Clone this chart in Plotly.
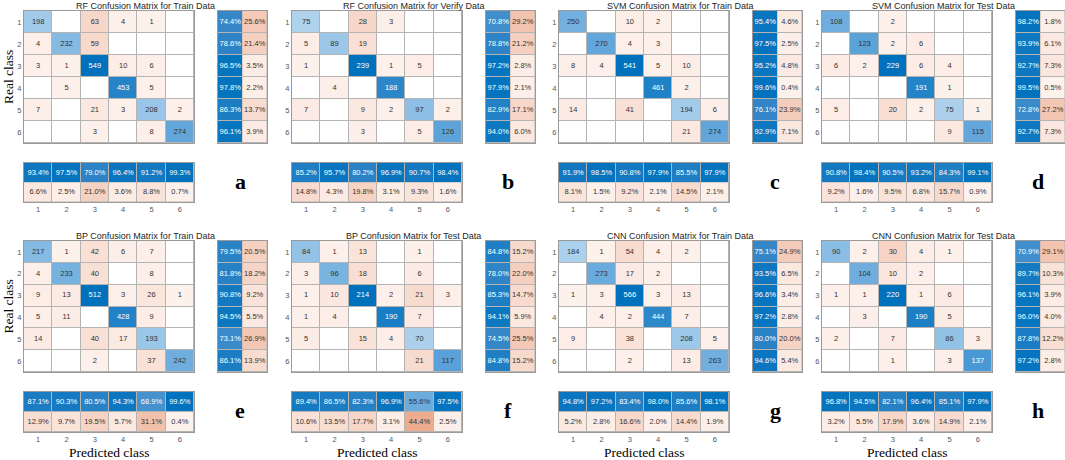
import plotly.graph_objects as go

classes = [1, 2, 3, 4, 5, 6]

titles = [
    "RF Confusion Matrix for Train Data",
    "RF Confusion Matrix for Verify Data",
    "SVM Confusion Matrix for Train Data",
    "SVM Confusion Matrix for Test Data",
    "BP Confusion Matrix for Train Data",
    "BP Confusion Matrix for Test Data",
    "CNN Confusion Matrix for Train Data",
    "CNN Confusion Matrix for Test Data",
]
letters = ["a", "b", "c", "d", "e", "f", "g", "h"]

# rows = real class, columns = predicted class (0 = empty cell)
rf_train = [[198, 0, 63, 4, 1, 0],
            [4, 232, 59, 0, 0, 0],
            [3, 1, 549, 10, 6, 0],
            [0, 5, 0, 453, 5, 0],
            [7, 0, 21, 3, 208, 2],
            [0, 0, 3, 0, 8, 274]]
rf_verify = [[75, 0, 28, 3, 0, 0],
             [5, 89, 19, 0, 0, 0],
             [1, 0, 239, 1, 5, 0],
             [0, 4, 0, 188, 0, 0],
             [7, 0, 9, 2, 97, 2],
             [0, 0, 3, 0, 5, 126]]
svm_train = [[250, 0, 10, 2, 0, 0],
             [0, 270, 4, 3, 0, 0],
             [8, 4, 541, 5, 10, 0],
             [0, 0, 0, 461, 2, 0],
             [14, 0, 41, 0, 194, 6],
             [0, 0, 0, 0, 21, 274]]
svm_test = [[108, 0, 2, 0, 0, 0],
            [0, 123, 2, 6, 0, 0],
            [6, 2, 229, 6, 4, 0],
            [0, 0, 0, 191, 1, 0],
            [5, 0, 20, 2, 75, 1],
            [0, 0, 0, 0, 9, 115]]
bp_train = [[217, 1, 42, 6, 7, 0],
            [4, 233, 40, 0, 8, 0],
            [9, 13, 512, 3, 26, 1],
            [5, 11, 0, 428, 9, 0],
            [14, 0, 40, 17, 193, 0],
            [0, 0, 2, 0, 37, 242]]
bp_test = [[84, 1, 13, 0, 1, 0],
           [3, 96, 18, 0, 6, 0],
           [1, 10, 214, 2, 21, 3],
           [1, 4, 0, 190, 7, 0],
           [5, 0, 15, 4, 70, 0],
           [0, 0, 0, 0, 21, 117]]
cnn_train = [[184, 1, 54, 4, 2, 0],
             [0, 273, 17, 2, 0, 0],
             [1, 3, 566, 3, 13, 0],
             [0, 4, 2, 444, 7, 0],
             [9, 0, 38, 0, 208, 5],
             [0, 0, 2, 0, 13, 263]]
cnn_test = [[90, 2, 30, 4, 1, 0],
            [0, 104, 10, 2, 0, 0],
            [1, 1, 220, 1, 6, 0],
            [0, 3, 0, 190, 5, 0],
            [2, 0, 7, 0, 86, 3],
            [0, 0, 1, 0, 3, 137]]

# row summary (% correct per real class)
row_rf_train = [74.4, 78.6, 96.5, 97.8, 86.3, 96.1]
row_rf_verify = [70.8, 78.8, 97.2, 97.9, 82.9, 94.0]
row_svm_train = [95.4, 97.5, 95.2, 99.6, 76.1, 92.9]
row_svm_test = [98.2, 93.9, 92.7, 99.5, 72.8, 92.7]
row_bp_train = [79.5, 81.8, 90.8, 94.5, 73.1, 86.1]
row_bp_test = [84.8, 78.0, 85.3, 94.1, 74.5, 84.8]
row_cnn_train = [75.1, 93.5, 96.6, 97.2, 80.0, 94.6]
row_cnn_test = [70.9, 89.7, 96.1, 96.0, 87.8, 97.2]

# column summary (% correct per predicted class)
col_rf_train = [93.4, 97.5, 79.0, 96.4, 91.2, 99.3]
col_rf_verify = [85.2, 95.7, 80.2, 96.9, 90.7, 98.4]
col_svm_train = [91.9, 98.5, 90.8, 97.9, 85.5, 97.9]
col_svm_test = [90.8, 98.4, 90.5, 93.2, 84.3, 99.1]
col_bp_train = [87.1, 90.3, 80.5, 94.3, 68.9, 99.6]
col_bp_test = [89.4, 86.5, 82.3, 96.9, 55.6, 97.5]
col_cnn_train = [94.8, 97.2, 83.4, 98.0, 85.6, 98.1]
col_cnn_test = [96.8, 94.5, 82.1, 96.4, 85.1, 97.9]

matrices = [rf_train, rf_verify, svm_train, svm_test, bp_train, bp_test, cnn_train, cnn_test]
row_sums = [row_rf_train, row_rf_verify, row_svm_train, row_svm_test,
            row_bp_train, row_bp_test, row_cnn_train, row_cnn_test]
col_sums = [col_rf_train, col_rf_verify, col_svm_train, col_svm_test,
            col_bp_train, col_bp_test, col_cnn_train, col_cnn_test]

BLUE = "#0072bd"
ORANGE = "#d9531a"
DARK = "#333333"
GRID = "#b4b4b4"
FONT = "Liberation Sans"
SERIF = "Liberation Serif"

blue_main = [[0, "#ffffff"], [0.35, "#a6cdeb"], [0.5, "#62a6db"], [0.8, "#2a86c9"], [1, BLUE]]
blue_pct = [[0, "#ffffff"], [0.55, "#6eaddd"], [0.75, "#3586c7"], [1, BLUE]]
orange_pct = [[0, "#fdf2ed"], [1, ORANGE]]

# pixel layout
W, H = 1065, 460
lefts = [24, 292, 559, 822]
mat_w, rs_off, rs_w = 170, 194, 49
rows_y = [dict(mat=(11, 143), cs=(163, 202)),
          dict(mat=(241, 372), cs=(392, 432))]


def px(x):
    return min(max(x / W, 0), 1)


def py(y):
    return min(max(1 - y / H, 0), 1)


fig = go.Figure()
layout = {}
annotations = []


def add_axes(n, x0, x1, y0, y1, xr, yr, xticks=False, yticks=False):
    common = dict(showgrid=False, zeroline=False, showline=True, mirror=True,
                  linecolor="#9a9a9a", linewidth=1, ticks="", tickvals=classes, ticklen=0,
                  tickfont=dict(size=7.5, color="#555", family=FONT), fixedrange=True)
    layout[f"xaxis{n}"] = dict(domain=[px(x0), px(x1)], anchor=f"y{n}", range=xr,
                               showticklabels=xticks, **common)
    layout[f"yaxis{n}"] = dict(domain=[py(y1), py(y0)], anchor=f"x{n}", range=yr,
                               showticklabels=yticks, **common)


def text_trace(n, xs, ys, texts, colors):
    fig.add_trace(go.Scatter(x=xs, y=ys, text=texts, mode="text", xaxis=f"x{n}", yaxis=f"y{n}",
                             textfont=dict(size=7.5, color=colors, family=FONT),
                             hoverinfo="skip", showlegend=False))


def note(text, x, y, size, family, color="black", angle=0):
    annotations.append(dict(text=text, x=px(x), y=py(y), xref="paper", yref="paper",
                            xanchor="center", yanchor="middle", showarrow=False,
                            textangle=angle, font=dict(size=size, color=color, family=family)))


for k in range(8):
    m = matrices[k]
    rs = row_sums[k]
    cs = col_sums[k]
    col = k % 4
    ry = rows_y[k // 4]
    left = lefts[col]
    mx = max(max(r) for r in m)
    na, nb, nc = 3 * k + 1, 3 * k + 2, 3 * k + 3

    # main matrix
    add_axes(na, left, left + mat_w, ry["mat"][0], ry["mat"][1],
             [0.5, 6.5], [6.5, 0.5], yticks=True)
    diag = [[m[i][j] if i == j else None for j in range(6)] for i in range(6)]
    off = [[m[i][j] if i != j else None for j in range(6)] for i in range(6)]
    zoff = mx * 0.7
    eps = 0.5 / zoff
    fig.add_trace(go.Heatmap(z=diag, x=classes, y=classes, colorscale=blue_main, zmin=0, zmax=mx,
                             xgap=1, ygap=1, showscale=False, hoverinfo="skip",
                             xaxis=f"x{na}", yaxis=f"y{na}"))
    fig.add_trace(go.Heatmap(z=off, x=classes, y=classes,
                             colorscale=[[0, "#ffffff"], [eps, "#fdf1ec"], [1, ORANGE]],
                             zmin=0, zmax=zoff, xgap=1, ygap=1, showscale=False, hoverinfo="skip",
                             xaxis=f"x{na}", yaxis=f"y{na}"))
    xs, ys, ts, cl = [], [], [], []
    for i in range(6):
        for j in range(6):
            if m[i][j]:
                xs.append(classes[j])
                ys.append(classes[i])
                ts.append(str(m[i][j]))
                cl.append("white" if i == j and m[i][j] / mx > 0.6 else DARK)
    text_trace(na, xs, ys, ts, cl)

    # row summary
    add_axes(nb, left + rs_off, left + rs_off + rs_w, ry["mat"][0], ry["mat"][1],
             [0.5, 2.5], [6.5, 0.5])
    fig.add_trace(go.Heatmap(z=[[v] for v in rs], x=[1], y=classes, colorscale=blue_pct,
                             zmin=0, zmax=100, xgap=1, ygap=1, showscale=False, hoverinfo="skip",
                             xaxis=f"x{nb}", yaxis=f"y{nb}"))
    fig.add_trace(go.Heatmap(z=[[100 - v] for v in rs], x=[2], y=classes, colorscale=orange_pct,
                             zmin=0, zmax=100, xgap=1, ygap=1, showscale=False, hoverinfo="skip",
                             xaxis=f"x{nb}", yaxis=f"y{nb}"))
    text_trace(nb, [1] * 6 + [2] * 6, classes + classes,
               [f"{v:.1f}%" for v in rs] + [f"{100 - v:.1f}%" for v in rs],
               ["white" if v > 60 else DARK for v in rs] + [DARK] * 6)

    # column summary
    add_axes(nc, left, left + mat_w, ry["cs"][0], ry["cs"][1],
             [0.5, 6.5], [2.5, 0.5], xticks=True)
    fig.add_trace(go.Heatmap(z=[cs], x=classes, y=[1], colorscale=blue_pct,
                             zmin=0, zmax=100, xgap=1, ygap=1, showscale=False, hoverinfo="skip",
                             xaxis=f"x{nc}", yaxis=f"y{nc}"))
    fig.add_trace(go.Heatmap(z=[[100 - v for v in cs]], x=classes, y=[2], colorscale=orange_pct,
                             zmin=0, zmax=100, xgap=1, ygap=1, showscale=False, hoverinfo="skip",
                             xaxis=f"x{nc}", yaxis=f"y{nc}"))
    text_trace(nc, classes + classes, [1] * 6 + [2] * 6,
               [f"{v:.1f}%" for v in cs] + [f"{100 - v:.1f}%" for v in cs],
               ["white" if v > 60 else DARK for v in cs] + [DARK] * 6)

    note(titles[k], left + (rs_off + rs_w) / 2, ry["mat"][0] - 5, 9, FONT, "#262626")
    note(f"<b>{letters[k]}</b>", left + 216, ry["cs"][0] + 18, 22, SERIF)
    if col == 0:
        note("Real class", 8, sum(ry["mat"]) / 2, 13.5, SERIF, angle=-90)
    if k >= 4:
        note("Predicted class", left + mat_w / 2, 452, 13.5, SERIF)

fig.update_layout(**layout)
fig.update_layout(width=W, height=H, margin=dict(l=0, r=0, t=0, b=0),
                  paper_bgcolor="white", plot_bgcolor=GRID, showlegend=False,
                  annotations=annotations, font=dict(family=FONT))
# the page body has a default 8px margin; drop it so the figure fills the window
fig.write_html("out.html", config={"displayModeBar": False},
               post_script="document.body.style.margin = '0px';")
